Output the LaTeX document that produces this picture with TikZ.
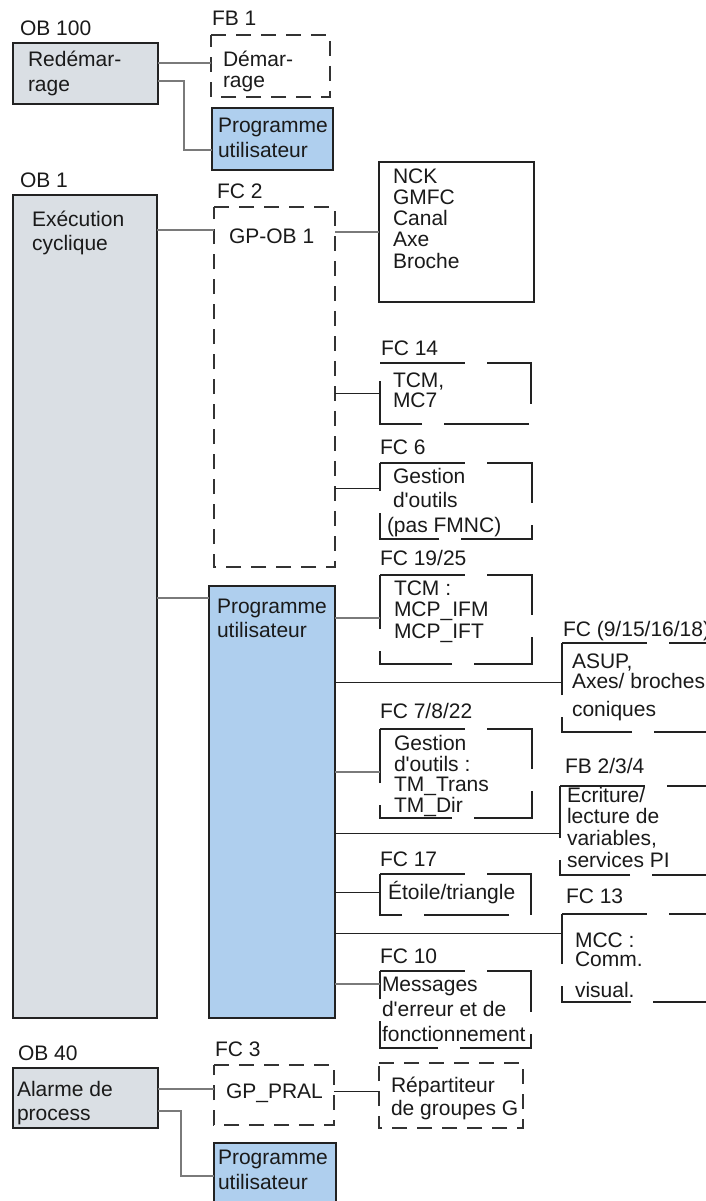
\documentclass[tikz,border=0pt]{standalone}
\usepackage{fontspec}
\setmainfont{Liberation Sans}
\definecolor{obgray}{HTML}{DADFE4}
\definecolor{ublue}{HTML}{AFCFEE}
\definecolor{bord}{HTML}{222222}
\definecolor{txtc}{HTML}{1A1A1A}
\definecolor{cgray}{HTML}{7A7A7A}
\definecolor{thinc}{HTML}{333333}
\newcommand{\ap}{\textquotesingle}
\newcommand{\blk}[2]{\fontsize{21}{#1}\selectfont\begin{tabular}[t]{@{}l@{}}#2\end{tabular}}
\newcommand{\bordr}[2]{\draw[#1] (#2.north west) -- (#2.north east) -- (#2.south east) -- (#2.south west) -- cycle;}
\tikzset{
  txt/.style={anchor=base west, inner sep=0pt, outer sep=0pt, text=txtc, font=\fontsize{21}{24}\selectfont},
  boxn/.style={anchor=north west, inner sep=0pt, outer sep=0pt},
  obbox/.style={boxn, fill=obgray, draw=bord, line width=2.3pt},
  bluebox/.style={boxn, fill=ublue, draw=bord, line width=2.3pt},
  solidbox/.style={boxn, fill=white, draw=bord, line width=2.5pt},
  plainbox/.style={boxn},
  thickdash/.style={draw=bord, line width=2.5pt, dash pattern=on 85pt off 22pt},
  thindash/.style={draw=thinc, line width=1.2pt, dash pattern=on 15pt off 10pt},
  cg/.style={draw=cgray, line width=1.3pt},
  cb/.style={draw=bord, line width=1pt}
}
\begin{document}
\begin{tikzpicture}[x=1pt,y=-1pt]
\useasboundingbox (0,0) rectangle (706,1201);
\clip (0,0) rectangle (706,1201);
\fill[white] (0,0) rectangle (706,1201);
% boxes
\node[obbox, minimum width=145pt, minimum height=61pt] (ob100) at (13,43) {};
\node[plainbox, minimum width=119pt, minimum height=62pt] (fb1) at (211,35) {};
\node[bluebox, minimum width=121pt, minimum height=62pt] (prog1) at (212,108) {};
\node[obbox, minimum width=144pt, minimum height=823pt] (ob1) at (13,195) {};
\node[plainbox, minimum width=121pt, minimum height=360pt] (fc2) at (214,207) {};
\node[solidbox, minimum width=155pt, minimum height=140pt] (nck) at (379,162) {};
\node[plainbox, minimum width=151pt, minimum height=61pt] (fc14) at (380,363) {};
\node[plainbox, minimum width=152pt, minimum height=76pt] (fc6) at (380,463) {};
\node[bluebox, minimum width=126pt, minimum height=432pt] (prog2) at (209,586) {};
\node[plainbox, minimum width=152pt, minimum height=89pt] (fc19) at (380,575) {};
\node[plainbox, minimum width=151pt, minimum height=89pt] (fc9) at (562,643) {};
\node[plainbox, minimum width=152pt, minimum height=89pt] (fc7) at (380,729) {};
\node[plainbox, minimum width=151pt, minimum height=89pt] (fb2) at (560,786) {};
\node[plainbox, minimum width=151pt, minimum height=41pt] (fc17) at (380,874) {};
\node[plainbox, minimum width=151pt, minimum height=88pt] (fc13) at (562,914) {};
\node[plainbox, minimum width=151pt, minimum height=77pt] (fc10) at (380,971) {};
\node[obbox, minimum width=145pt, minimum height=60pt] (ob40) at (13,1068) {};
\node[plainbox, minimum width=120pt, minimum height=60pt] (fc3) at (214,1065) {};
\node[plainbox, minimum width=144pt, minimum height=65pt] (rep) at (379,1063) {};
\node[bluebox, minimum width=122pt, minimum height=72pt] (prog3) at (214,1143) {};
% dashed borders
\bordr{thindash}{fb1}
\bordr{thindash}{fc2}
\bordr{thindash}{fc3}
\bordr{thindash}{rep}
\bordr{thickdash}{fc14}
\bordr{thickdash}{fc6}
\bordr{thickdash}{fc19}
\bordr{thickdash}{fc9}
\bordr{thickdash}{fc7}
\bordr{thickdash}{fb2}
\bordr{thickdash}{fc17}
\bordr{thickdash}{fc13}
\bordr{thickdash}{fc10}
% connectors
\draw[cg] (ob100.east |- 0,63) -- (fb1.west |- 0,63);
\draw[cg] (ob100.east |- 0,81) -- ++(26,0) |- (prog1.west |- 0,150);
\draw[cg] (ob1.east |- 0,230) -- (fc2.west |- 0,230);
\draw[cg] (fc2.east |- 0,232) -- (nck.west |- 0,232);
\draw[cb] (fc2.east |- 0,393) -- (fc14.west |- 0,393);
\draw[cb] (fc2.east |- 0,488) -- (fc6.west |- 0,488);
\draw[cg] (ob1.east |- 0,598) -- (prog2.west |- 0,598);
\draw[cg] (prog2.east |- 0,618) -- (fc19.west |- 0,618);
\draw[cb] (prog2.east |- 0,682) -- (fc9.west |- 0,682);
\draw[cg] (prog2.east |- 0,772) -- (fc7.west |- 0,772);
\draw[cb] (prog2.east |- 0,833) -- (fb2.west |- 0,833);
\draw[cb] (prog2.east |- 0,892) -- (fc17.west |- 0,892);
\draw[cb] (prog2.east |- 0,933) -- (fc13.west |- 0,933);
\draw[cg] (prog2.east |- 0,984) -- (fc10.west |- 0,984);
\draw[cg] (ob40.east |- 0,1089) -- (fc3.west |- 0,1089);
\draw[cb] (fc3.east |- 0,1091) -- (rep.west |- 0,1091);
\draw[cg] (ob40.east |- 0,1111) -- ++(23,0) |- (prog3.west |- 0,1176);
% texts
\node[txt] (l-ob100) at (20,36) {OB 100};
\node[txt] (t-ob100) at (28,67) {\blk{25}{Redémar-\\rage}};
\node[txt] (l-fb1) at (212,26) {FB 1};
\node[txt] (t-fb1) at (223,67) {\blk{21}{Démar-\\rage}};
\node[txt] (t-prog1) at (218,133) {\blk{25}{Programme\\utilisateur}};
\node[txt] (l-ob1) at (20,188) {OB 1};
\node[txt] (t-ob1) at (32,226) {\blk{24}{Exécution\\cyclique}};
\node[txt] (l-fc2) at (217,198) {FC 2};
\node[txt] (t-fc2) at (229,243) {GP-OB 1};
\node[txt] (t-nck) at (393,183) {\blk{21}{NCK\\GMFC\\Canal\\Axe\\Broche}};
\node[txt] (l-fc14) at (381,355) {FC 14};
\node[txt] (t-fc14) at (393,387) {\blk{20}{TCM,\\MC7}};
\node[txt] (l-fc6) at (380,454) {FC 6};
\node[txt] (t-fc6) at (393,483) {\blk{24.5}{Gestion\\d\ap outils\\\hspace*{-6pt}(pas FMNC)}};
\node[txt] (t-prog2) at (217,613) {\blk{24}{Programme\\utilisateur}};
\node[txt] (l-fc19) at (380,565) {FC 19/25};
\node[txt] (t-fc19) at (394,595) {\blk{21.5}{TCM :\\MCP\_IFM\\MCP\_IFT}};
\node[txt] (l-fc9) at (563,636) {FC (9/15/16/18)};
\node[txt] (t-fc9) at (572,668) {\blk{19}{ASUP,\\Axes/ broches\\[7pt]coniques}};
\node[txt] (l-fc7) at (380,718) {FC 7/8/22};
\node[txt] (t-fc7) at (394,750) {\blk{20}{Gestion\\d\ap outils :\\TM\_Trans\\TM\_Dir}};
\node[txt] (l-fb2) at (565,773) {FB 2/3/4};
\node[txt] (t-fb2) at (567,802) {\blk{21.7}{Ecriture/\\lecture de\\variables,\\services PI}};
\node[txt] (l-fc17) at (380,866) {FC 17};
\node[txt] (t-fc17) at (388,899) {Étoile/triangle};
\node[txt] (l-fc13) at (566,903) {FC 13};
\node[txt] (t-fc13) at (575,947) {\blk{17}{MCC :\\Comm.\\[10pt]visual.}};
\node[txt] (l-fc10) at (380,963) {FC 10};
\node[txt] (t-fc10) at (382,991) {\blk{25}{Messages\\d\ap erreur et de\\fonctionnement}};
\node[txt] (l-ob40) at (18,1060) {OB 40};
\node[txt] (t-ob40) at (17,1096) {\blk{24}{Alarme de\\process}};
\node[txt] (l-fc3) at (215,1056) {FC 3};
\node[txt] (t-fc3) at (226,1098) {GP\_PRAL};
\node[txt] (t-rep) at (391,1092) {\blk{23}{Répartiteur\\de groupes G}};
\node[txt] (t-prog3) at (218,1164) {\blk{25}{Programme\\utilisateur}};
\end{tikzpicture}
\end{document}
